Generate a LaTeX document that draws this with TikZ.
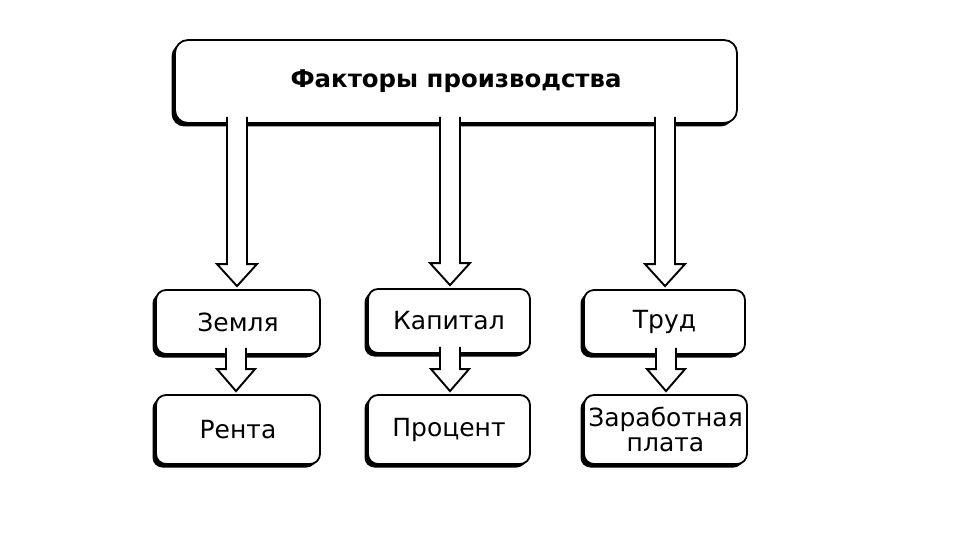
\documentclass[tikz,border=0pt]{standalone}
\usepackage{fontspec}
\setmainfont{DejaVu Sans}
\usetikzlibrary{calc,shadows}
\tikzset{
  box/.style={draw=black, line width=1.8pt, fill=white, rounded corners=10pt,
    drop shadow={shadow xshift=-3.5pt, shadow yshift=-3.5pt, fill=black, opacity=1},
    inner sep=0pt, anchor=center, align=center,
    font=\fontsize{25}{25}\selectfont},
  arrline/.style={draw=black, fill=white, line width=1.9pt, line join=miter}
}
\newcommand\blockarr[7]{%
  \coordinate (S) at ($(#3 |- #1.south)+(0,-7)$);
  \coordinate (T) at ($(#3 |- #2.north)+(0,-#7)$);
  \filldraw[arrline] ($(S)+(-#4,0)$) -- ($(T)+(-#4,-#6)$) -- ($(T)+(-#5,-#6)$) -- (T)
     -- ($(T)+(#5,-#6)$) -- ($(T)+(#4,-#6)$) -- ($(S)+(#4,0)$);
}
\begin{document}
\begin{tikzpicture}[x=1pt,y=-1pt]
\useasboundingbox (0,0) rectangle (960,540);
\fill[white] (0,0) rectangle (960,540);
\node[box, rounded corners=13pt, minimum width=562pt, minimum height=83pt,
  font=\fontsize{24.4}{28}\selectfont\bfseries] (top) at (456,81.5) {Факторы производства};
\node[box, minimum width=164pt, minimum height=64pt] (zem) at (238,322) {Земля};
\node[box, minimum width=164pt, minimum height=69pt] (ren) at (238,429.5) {Рента};
\node[box, minimum width=162pt, minimum height=64pt] (kap) at (449,321) {Капитал};
\node[box, minimum width=162pt, minimum height=69pt] (pro) at (449,429.5) {Процент};
\node[box, minimum width=161pt, minimum height=64pt] (tru) at (664.5,322) {Труд};
\node[box, minimum width=163pt, minimum height=69pt] (zar) at (665.5,429.5) {Заработная\\плата};
\coordinate (x1) at (237,0);
\coordinate (x2) at (450,0);
\coordinate (x3) at (665,0);
\coordinate (y1) at (236,0);
\coordinate (y2) at (450,0);
\coordinate (y3) at (666,0);
\blockarr{top}{zem}{x1}{10}{20}{22}{3}
\blockarr{top}{kap}{x2}{10}{20}{22}{3}
\blockarr{top}{tru}{x3}{10}{20}{22}{3}
\blockarr{zem}{ren}{y1}{10}{19}{22}{3}
\blockarr{kap}{pro}{y2}{10}{19}{22}{3}
\blockarr{tru}{zar}{y3}{10}{19}{22}{3}
\end{tikzpicture}
\end{document}
